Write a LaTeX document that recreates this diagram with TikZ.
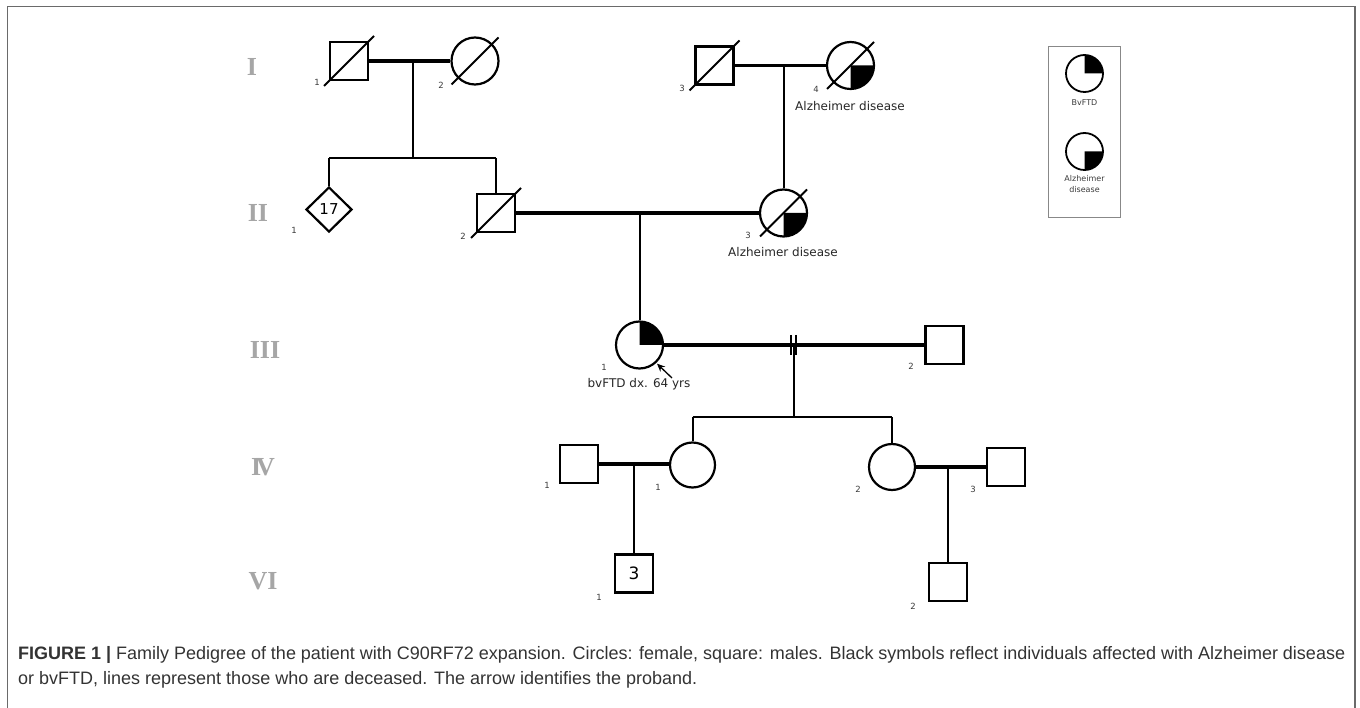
\documentclass[tikz,border=0pt]{standalone}
\usepackage{fontspec}
\setmainfont{Liberation Sans}
\newfontfamily\dv{DejaVu Sans}
\newfontfamily\gserif{Liberation Serif}
\usetikzlibrary{shapes.geometric,arrows.meta,calc}
\definecolor{gen}{HTML}{A6A6A6}
\definecolor{framec}{HTML}{6A6A6A}
\definecolor{lbl}{HTML}{3A3A3A}
\definecolor{captxt}{HTML}{333333}
\begin{document}
\begin{tikzpicture}[x=1pt,y=-1pt,
  male/.style={draw, rectangle, minimum size=38pt, inner sep=0pt, line width=2.2pt},
  female/.style={draw, circle, minimum size=47pt, inner sep=0pt, line width=2.2pt},
  unk/.style={draw, diamond, minimum width=46pt, minimum height=45pt, inner sep=0pt, line width=2.2pt, font=\dv\fontsize{15}{16}\selectfont},
  marr/.style={line width=3.2pt},
  kin/.style={line width=2pt},
  num/.style={font=\dv\fontsize{8.5}{9}\selectfont, text=lbl, inner sep=0pt},
  gentxt/.style={font=\gserif\bfseries\fontsize{26}{28}\selectfont, text=gen, inner sep=0pt},
  dis/.style={font=\dv\fontsize{12}{14}\selectfont, text=black!85, inner sep=0pt},
  legtxt/.style={font=\dv\fontsize{8}{11}\selectfont, text=lbl, inner sep=0pt, align=center},
  captext/.style={font=\fontsize{18}{22}\selectfont, text=captxt, inner sep=0pt, anchor=base west}
]
\useasboundingbox (0,0) rectangle (1360,708);
% frame
\draw[framec, line width=1.5pt] (7.5,708) -- (7.5,6.5) -- (1355,6.5) -- (1355,708);

% generation labels
\node[gentxt] (gI) at (252,67) {I};
\node[gentxt] (gII) at (258,213) {II};
\node[gentxt] (gIII) at (265,350) {III};
\node[gentxt] (gIV) at (263,467) {I\kern-5pt V};
\node[gentxt] (gVI) at (263,581) {VI};

% Generation I
\node[male] (I1) at (349,61) {};
\node[female] (I2) at (475,61) {};
\node[male] (I3) at (714.5,65.5) {};
\node[female] (I4) at (850.5,65.5) {};
\fill (I4.center) -- ++(23.5pt,0pt) arc[start angle=0,end angle=-90,radius=23.5pt] -- cycle;

% Generation II
\node[unk] (II1) at (329,209.5) {17};
\node[male] (II2) at (496,213) {};
\node[female] (II3) at (783.5,213) {};
\fill (II3.center) -- ++(23.5pt,0pt) arc[start angle=0,end angle=-90,radius=23.5pt] -- cycle;

% Generation III
\node[female] (III1) at (639.5,345) {};
\fill (III1.center) -- ++(23.5pt,0pt) arc[start angle=0,end angle=90,radius=23.5pt] -- cycle;
\node[male] (III2) at (944.5,345) {};

% Generation IV
\node[male] (IV1m) at (579,464) {};
\node[female,minimum size=45pt] (IV1) at (692.5,465) {};
\node[female,minimum size=46pt] (IV2) at (892,467) {};
\node[male] (IV3) at (1006,467) {};

% Generation VI
\node[male, font=\dv\fontsize{17}{18}\selectfont] (VI1) at (634,573.5) {3};
\node[male] (VI2) at (948,582) {};

% deceased lines
\foreach \n in {I1,I3,II2}{
  \draw[kin] ($(\n.center)+(-25pt,-25pt)$) -- ($(\n.center)+(25pt,25pt)$);
}
\foreach \n in {I2,I4,II3}{
  \draw[kin] ($(\n.center)+(-23.5pt,-23.5pt)$) -- ($(\n.center)+(23.5pt,23.5pt)$);
}

% mating and descent lines, gen I -> II
\draw[marr] (I1.east) -- (I2.west);
\coordinate (m1) at (413,61);
\coordinate (s1) at (413,158);
\draw[kin] (m1) -- (s1);
\draw[kin] (II1.north |- s1) -- (II2.north |- s1);
\draw[kin] (II1.north |- s1) -- (II1.north);
\draw[kin] (II2.north |- s1) -- (II2.north);

\draw[marr] (I3.east) -- (I4.west);
\draw[kin] (II3.north |- I3.east) -- (II3.north);

% gen II -> III
\draw[marr] (II2.east) -- (II3.west);
\draw[kin] (III1.north |- II2.east) -- (III1.north);

% gen III -> IV
\draw[marr] (III1.east) -- (III2.west);
\coordinate (m3) at (793.5,345);
\draw[line width=1.4pt] ($(m3)+(-2.5pt,10pt)$) -- ++(0pt,-20pt);
\draw[line width=1.4pt] ($(m3)+(2.5pt,10pt)$) -- ++(0pt,-20pt);
\coordinate (s3) at (793.5,417);
\draw[kin] (m3) -- (s3);
\draw[kin] (IV1.north |- s3) -- (IV2.north |- s3);
\draw[kin] (IV1.north |- s3) -- (IV1.north);
\draw[kin] (IV2.north |- s3) -- (IV2.north);

% gen IV -> VI
\draw[marr] (IV1m.east) -- (IV1m.east -| IV1.west);
\draw[kin] (VI1.north |- IV1m.east) -- (VI1.north);
\draw[marr] (IV2.east) -- (IV3.west);
\draw[kin] (VI2.north |- IV2.east) -- (VI2.north);

% proband arrow
\coordinate (arrtail) at (672,378);
\draw[line width=1.3pt, -{Stealth[length=8pt,width=7pt]}, shorten >=1pt] (arrtail) -- (III1.-47);

% individual numbers
\node[num] (nI1) at (317,82) {1};
\node[num] (nI2) at (441,85) {2};
\node[num] (nI3) at (682,88) {3};
\node[num] (nI4) at (816,89) {4};
\node[num] (nII1) at (294,230) {1};
\node[num] (nII2) at (463,236) {2};
\node[num] (nII3) at (748,235) {3};
\node[num] (nIII1) at (604,367) {1};
\node[num] (nIII2) at (911,366) {2};
\node[num] (nIV1m) at (547,485) {1};
\node[num] (nIV1) at (658,487) {1};
\node[num] (nIV2) at (858,489) {2};
\node[num] (nIV3) at (973,489) {3};
\node[num] (nVI1) at (599,597) {1};
\node[num] (nVI2) at (913,606) {2};

% disease texts
\node[dis] (dI4) at (850,106) {Alzheimer disease};
\node[dis] (dII3) at (783,252) {Alzheimer disease};
\node[dis] (dIII1) at (639,384) {bvFTD dx. 64 yrs};

% legend
\node[draw=framec!80, line width=1pt, minimum width=72pt, minimum height=171pt, inner sep=0pt] (leg) at (1084,132.5) {};
\node[female, minimum size=37pt, line width=1.8pt] (L1) at (1084.5,73.5) {};
\fill (L1.center) -- ++(18.5pt,0pt) arc[start angle=0,end angle=90,radius=18.5pt] -- cycle;
\node[legtxt] (L1t) at (1084.5,103) {BvFTD};
\node[female, minimum size=37pt, line width=1.8pt] (L2) at (1084.5,151.5) {};
\fill (L2.center) -- ++(18.5pt,0pt) arc[start angle=0,end angle=-90,radius=18.5pt] -- cycle;
\node[legtxt] (L2t) at (1084.5,184) {Alzheimer\\disease};

% caption
\node[captext] (cap1) at (18,659) {\hbox to 1327pt{\textbf{FIGURE 1 |} Family Pedigree of the patient with C90RF72 expansion. Circles: female, square: males. Black symbols reflect individuals affected with Alzheimer disease}};
\node[captext] (cap2) at (18,684) {or bvFTD, lines represent those who are deceased. The arrow identifies the proband.};
\end{tikzpicture}
\end{document}
